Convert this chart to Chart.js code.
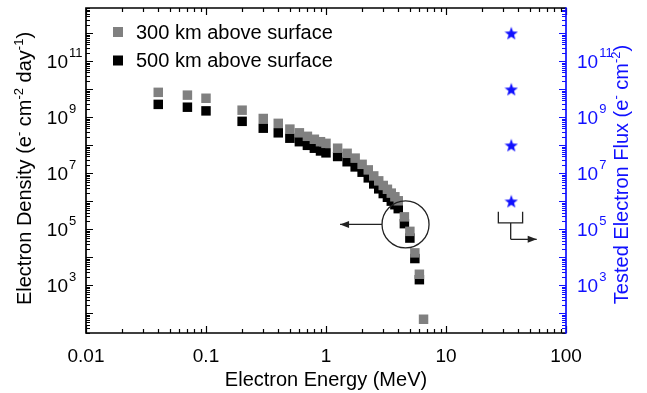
<!DOCTYPE html>
<html>
<head>
<meta charset="utf-8">
<script src="https://cdn.jsdelivr.net/npm/chart.js@4.4.1/dist/chart.umd.min.js"></script>
<style>
  html, body { margin: 0; padding: 0; background: #fff; }
</style>
</head>
<body>
<canvas id="fluxChart" width="647" height="393"></canvas>
<script>
// data (MeV, e- cm-2 day-1)
const energies = [0.04, 0.07, 0.1, 0.2, 0.3, 0.4, 0.5, 0.6, 0.7, 0.8, 0.9, 1.0, 1.25, 1.5, 1.75, 2.0, 2.25, 2.5, 2.75, 3.0, 3.25, 3.5, 3.75, 4.0, 4.5, 5.0, 5.5, 6.0, 6.5];
const density300 = [7.8e9, 6.2e9, 4.8e9, 1.8e9, 9.1e8, 6.1e8, 3.8e8, 2.8e8, 2.1e8, 1.65e8, 1.35e8, 1.18e8, 7.9e7, 5.2e7, 3.5e7, 2.1e7, 1.33e7, 8.1e6, 5.4e6, 3.7e6, 2.7e6, 1.97e6, 1.46e6, 1.05e6, 2.8e5, 8.5e4, 1.45e4, 2.5e3, 62];
const density500 = [2.9e9, 2.3e9, 1.7e9, 7.2e8, 4.1e8, 2.8e8, 1.8e8, 1.35e8, 1.0e8, 7.9e7, 6.3e7, 5.4e7, 4.0e7, 2.6e7, 1.7e7, 1.1e7, 6.9e6, 4.2e6, 2.8e6, 1.9e6, 1.4e6, 1.02e6, 7.6e5, 5.5e5, 1.6e5, 4.9e4, 9.1e3, 1.6e3, null];
const testedEnergy = [35, 35, 35, 35];
const testedFlux = [1e12, 1e10, 1e8, 1e6];
const xTickValues = [0.01, 0.1, 1, 10, 100];
const xTickLabels = ['0.01', '0.1', '1', '10', '100'];
const yLabelExponents = [3, 5, 7, 9, 11];

const FONT = '"Liberation Sans", Arial, sans-serif';
const BLUE = 'rgb(16,16,255)';
const Y_MIN = 20, Y_MAX = 8e12;

Chart.defaults.font.family = FONT;

function makeStar(size, color) {
  const c = document.createElement('canvas');
  c.width = size; c.height = size;
  const g = c.getContext('2d');
  const ro = size / 2, ri = ro * 0.42;
  g.beginPath();
  for (let i = 0; i < 10; i++) {
    const r = i % 2 ? ri : ro;
    const ang = -Math.PI / 2 + i * Math.PI / 5;
    g.lineTo(size / 2 + r * Math.cos(ang), size / 2 + 0.6 + r * Math.sin(ang));
  }
  g.closePath();
  g.fillStyle = color;
  g.fill();
  return c;
}

// text with superscript pieces, baseline at y
function richText(ctx, parts, x, y, align, color, big, small, raise) {
  let total = 0;
  parts.forEach(([t, sup]) => {
    ctx.font = (sup ? small : big) + 'px ' + FONT;
    total += ctx.measureText(t).width;
  });
  let cx = align === 'center' ? x - total / 2 : x;
  ctx.textAlign = 'left';
  ctx.textBaseline = 'alphabetic';
  ctx.fillStyle = color;
  parts.forEach(([t, sup]) => {
    ctx.font = (sup ? small : big) + 'px ' + FONT;
    ctx.fillText(t, cx, sup ? y - raise : y);
    cx += ctx.measureText(t).width;
  });
}

const decor = {
  id: 'decor',
  afterDraw(chart) {
    const { ctx, chartArea: a } = chart;
    const sx = chart.scales.x, sy = chart.scales.y, sy2 = chart.scales.y2;
    ctx.save();

    // tick marks, pointing inward
    ctx.lineWidth = 1.2;
    ctx.strokeStyle = '#000';
    ctx.beginPath();
    for (let p = -2; p <= 2; p++) {
      for (let k = 1; k <= 9; k++) {
        const v = k * Math.pow(10, p);
        if (v > 100.001) break;
        const px = Math.round(sx.getPixelForValue(v)) + 0.5;
        const len = k === 1 ? 7 : 4;
        ctx.moveTo(px, a.bottom); ctx.lineTo(px, a.bottom - len);
        ctx.moveTo(px, a.top); ctx.lineTo(px, a.top + len);
      }
    }
    for (let p = 1; p <= 12; p++) {
      for (let k = 1; k <= 9; k++) {
        const v = k * Math.pow(10, p);
        if (v < Y_MIN || v > Y_MAX) continue;
        const py = Math.round(sy.getPixelForValue(v)) + 0.5;
        ctx.moveTo(a.left, py); ctx.lineTo(a.left + (k === 1 ? 7 : 4), py);
      }
    }
    ctx.stroke();
    ctx.strokeStyle = BLUE;
    ctx.beginPath();
    for (let p = 1; p <= 12; p++) {
      for (let k = 1; k <= 9; k++) {
        const v = k * Math.pow(10, p);
        if (v < Y_MIN || v > Y_MAX) continue;
        const py = Math.round(sy2.getPixelForValue(v)) + 0.5;
        ctx.moveTo(a.right, py); ctx.lineTo(a.right - (k === 1 ? 7 : 4), py);
      }
    }
    ctx.stroke();

    // frame
    ctx.lineWidth = 1.7;
    ctx.strokeStyle = '#000';
    ctx.beginPath();
    ctx.moveTo(a.right, a.top); ctx.lineTo(a.left, a.top);
    ctx.lineTo(a.left, a.bottom); ctx.lineTo(a.right, a.bottom);
    ctx.stroke();
    ctx.strokeStyle = BLUE;
    ctx.beginPath();
    ctx.moveTo(a.right, a.top - 0.8); ctx.lineTo(a.right, a.bottom + 0.8);
    ctx.stroke();

    // y tick labels 10^n
    yLabelExponents.forEach(e => {
      const py = sy.getPixelForValue(Math.pow(10, e));
      ctx.fillStyle = '#000';
      ctx.font = '19px ' + FONT;
      ctx.textAlign = 'right';
      ctx.textBaseline = 'alphabetic';
      ctx.fillText('10', a.left - 18, py + 6.8);
      ctx.font = '13px ' + FONT;
      ctx.textAlign = 'left';
      ctx.fillText(String(e), a.left - 17, py - 4);

      const py2 = sy2.getPixelForValue(Math.pow(10, e));
      ctx.fillStyle = BLUE;
      ctx.font = '19px ' + FONT;
      const w = ctx.measureText('10').width;
      ctx.fillText('10', a.right + 11, py2 + 6.8);
      ctx.font = '13px ' + FONT;
      ctx.fillText(String(e), a.right + 12 + w, py2 - 4);
    });

    // axis titles
    const midY = (a.top + a.bottom) / 2;
    ctx.save();
    ctx.translate(31, midY - 2);
    ctx.rotate(-Math.PI / 2);
    richText(ctx, [['Electron Density (e', false], ['-', true], [' cm', false], ['-2', true],
      [' day', false], ['-1', true], [')', false]], 0, 0, 'center', '#000', 20, 13, 8);
    ctx.restore();
    ctx.save();
    ctx.translate(627.5, midY + 4);
    ctx.rotate(-Math.PI / 2);
    richText(ctx, [['Tested Electron Flux (e', false], ['-', true], [' cm', false], ['-2', true],
      [')', false]], 0, 0, 'center', BLUE, 20, 13, 8);
    ctx.restore();

    // legend
    chart.data.datasets.slice(0, 2).forEach((ds, i) => {
      const cy = a.top + 24 + i * 28.5;
      ctx.fillStyle = ds.backgroundColor;
      ctx.fillRect(a.left + 27, cy - 5, 10, 10);
      ctx.fillStyle = '#000';
      ctx.font = '20px ' + FONT;
      ctx.textAlign = 'left';
      ctx.textBaseline = 'middle';
      ctx.fillText(ds.label, a.left + 50, cy + 1);
    });

    // annotations: circle with arrow, bracket with arrow
    const arrow = (x0, y0, x1, y1) => {
      ctx.beginPath(); ctx.moveTo(x0, y0); ctx.lineTo(x1, y1); ctx.stroke();
      const ang = Math.atan2(y1 - y0, x1 - x0);
      ctx.beginPath();
      ctx.moveTo(x1, y1);
      ctx.lineTo(x1 - 9 * Math.cos(ang) + 3.5 * Math.sin(ang), y1 - 9 * Math.sin(ang) - 3.5 * Math.cos(ang));
      ctx.lineTo(x1 - 9 * Math.cos(ang) - 3.5 * Math.sin(ang), y1 - 9 * Math.sin(ang) + 3.5 * Math.cos(ang));
      ctx.closePath(); ctx.fill();
    };
    ctx.strokeStyle = '#222';
    ctx.fillStyle = '#222';
    ctx.lineWidth = 1.3;
    const ccx = sx.getPixelForValue(4.6), ccy = sy.getPixelForValue(1.5e5), r = 23.5;
    ctx.beginPath(); ctx.arc(ccx, ccy, r, 0, Math.PI * 2); ctx.stroke();
    arrow(ccx - r, ccy, sx.getPixelForValue(1.31), ccy);

    const bl = sx.getPixelForValue(27.3), br = sx.getPixelForValue(43.5), bm = sx.getPixelForValue(34.6);
    const bt = sy2.getPixelForValue(4.3e5), bb = sy2.getPixelForValue(1.7e5), bs = sy2.getPixelForValue(4.4e4);
    ctx.beginPath();
    ctx.moveTo(bl, bt); ctx.lineTo(bl, bb); ctx.lineTo(br, bb); ctx.lineTo(br, bt);
    ctx.moveTo(bm, bb); ctx.lineTo(bm, bs);
    ctx.stroke();
    arrow(bm, bs, sx.getPixelForValue(57), bs);

    ctx.restore();
  }
};

const ctx = document.getElementById('fluxChart').getContext('2d');
new Chart(ctx, {
  type: 'scatter',
  data: {
    datasets: [
      {
        label: '300 km above surface',
        data: energies.map((e, i) => ({ x: e, y: density300[i] })),
        backgroundColor: '#808080',
        pointStyle: 'rect',
        pointRadius: 6.7,
        pointHoverRadius: 6.7,
        borderWidth: 0,
        yAxisID: 'y'
      },
      {
        label: '500 km above surface',
        data: energies.map((e, i) => ({ x: e, y: density500[i] })),
        backgroundColor: '#000000',
        pointStyle: 'rect',
        pointRadius: 6.7,
        pointHoverRadius: 6.7,
        borderWidth: 0,
        yAxisID: 'y'
      },
      {
        label: 'Tested electron flux',
        data: testedEnergy.map((e, i) => ({ x: e, y: testedFlux[i] })),
        backgroundColor: BLUE,
        pointStyle: makeStar(14, BLUE),
        yAxisID: 'y2'
      }
    ]
  },
  options: {
    responsive: false,
    animation: false,
    devicePixelRatio: 1,
    layout: { padding: { top: 8, left: 0, right: 0, bottom: 0 } },
    plugins: {
      legend: { display: false },
      tooltip: { enabled: false }
    },
    scales: {
      x: {
        type: 'logarithmic',
        min: 0.01,
        max: 100,
        afterBuildTicks: s => { s.ticks = xTickValues.map(v => ({ value: v })); },
        afterFit: s => { s.height = 60; },
        ticks: {
          callback: (v, i) => xTickLabels[i],
          color: '#000',
          font: { size: 19 },
          padding: 4,
          maxRotation: 0,
          autoSkip: false
        },
        grid: { display: false },
        border: { display: false },
        title: {
          display: true,
          text: 'Electron Energy (MeV)',
          color: '#000',
          font: { size: 20 },
          padding: { top: 0, bottom: 1 }
        }
      },
      y: {
        type: 'logarithmic',
        position: 'left',
        min: Y_MIN,
        max: Y_MAX,
        afterFit: s => { s.width = 86; },
        ticks: { display: false },
        grid: { display: false },
        border: { display: false }
      },
      y2: {
        type: 'logarithmic',
        position: 'right',
        min: Y_MIN,
        max: Y_MAX,
        afterFit: s => { s.width = 81; },
        ticks: { display: false },
        grid: { display: false },
        border: { display: false }
      }
    }
  },
  plugins: [decor]
});
</script>
</body>
</html>
